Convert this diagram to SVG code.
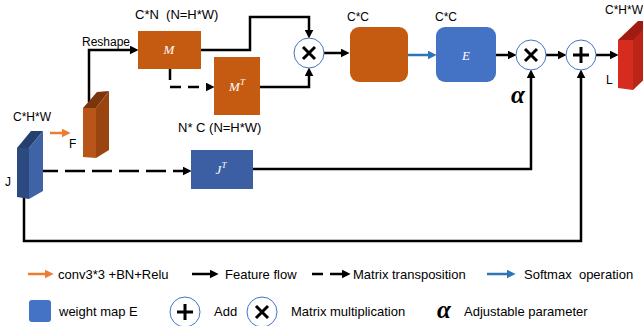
<svg xmlns="http://www.w3.org/2000/svg" width="643" height="326" viewBox="0 0 643 326" xml:space="preserve">
<style>
text{font-family:"Liberation Sans",Arial,sans-serif;font-size:12px;fill:#000;white-space:pre}
.lg{font-size:13px}
.md{font-size:13px}
.in{font-family:"Liberation Serif","Times New Roman",serif;font-style:italic;font-size:13px;fill:#fff}
.al{font-family:"Liberation Serif","Times New Roman",serif;font-style:italic;font-weight:bold;font-size:25px}
.ln{fill:none;stroke:#000;stroke-width:2.5}
.ds{stroke-dasharray:11 7}
.dl{stroke-dasharray:20 7}
.bl{fill:none;stroke:#2e75b6;stroke-width:2.5}
.or{fill:none;stroke:#ed7d31;stroke-width:2.5}
.og{fill:#c55a11}
.bb{fill:#4472c4}
.cir{fill:#fff;stroke:#4472c4;stroke-width:1}
.sym{stroke:#000;stroke-width:3;fill:none}
</style>
<defs>
<marker id="ab" viewBox="0 0 10 10" refX="6" refY="5" markerWidth="9" markerHeight="9" markerUnits="userSpaceOnUse" orient="auto"><path d="M0,0 L10,5 L0,10 z" fill="#000"/></marker>
<marker id="au" viewBox="0 0 10 10" refX="6" refY="5" markerWidth="9" markerHeight="9" markerUnits="userSpaceOnUse" orient="auto"><path d="M0,0 L10,5 L0,10 z" fill="#2e75b6"/></marker>
<marker id="ao" viewBox="0 0 10 10" refX="6" refY="5" markerWidth="9" markerHeight="9" markerUnits="userSpaceOnUse" orient="auto"><path d="M0,0 L10,5 L0,10 z" fill="#ed7d31"/></marker>
</defs>

<g id="connectors">
<path class="ln" d="M89,102 V50 H135" marker-end="url(#ab)"/>
<path class="ln" d="M201,50 H250 V17 H309 V35" marker-end="url(#ab)"/>
<path class="ln ds" d="M170,69 V87 H211" marker-end="url(#ab)"/>
<path class="ln" d="M260,87 H309 V71" marker-end="url(#ab)"/>
<path class="ln" d="M324,53 H346" marker-end="url(#ab)"/>
<path class="bl" d="M408,55 H433" marker-end="url(#au)"/>
<path class="ln" d="M496,55 H513" marker-end="url(#ab)"/>
<path class="ln" d="M546,55 H563" marker-end="url(#ab)"/>
<path class="ln" d="M596,55 H615" marker-end="url(#ab)"/>
<path class="ln" d="M253,169 H531 V73" marker-end="url(#ab)"/>
<path class="ln" d="M24,187 V241 H581 V73" marker-end="url(#ab)"/>
<path class="ln dl" d="M38,171 H188" marker-end="url(#ab)"/>
<path class="or" d="M50,133 H67" marker-end="url(#ao)"/>
</g>

<g id="J">
<polygon points="17,148 31,131 43,131 29,148" fill="#26406e"/>
<polygon points="17,148 29,148 29,199 17,197" fill="#2c4a80"/>
<polygon points="29,148 43,131 43,191 29,199" fill="#4062a6"/>
<text x="5" y="186">J</text>
<text x="13" y="121">C*H*W</text>
</g>

<g id="F">
<polygon points="83,108 97,92 109,91 96,108" fill="#7a350c"/>
<polygon points="83,108 96,108 96,158 83,157" fill="#b8561a"/>
<polygon points="96,108 109,91 109,150 96,158" fill="#9a4510"/>
<text x="69" y="148">F</text>
</g>

<g id="reshape"><text x="82" y="46">Reshape</text></g>

<g id="M">
<rect class="og" x="138" y="31" width="63" height="38"/>
<text class="in" x="169" y="54" text-anchor="middle">M</text>
<text class="md" x="135" y="19">C*N  (N=H*W)</text>
</g>

<g id="MT">
<rect class="og" x="214" y="57" width="46" height="58"/>
<text class="in" x="237" y="91" text-anchor="middle">M<tspan font-size="9" dy="-6">T</tspan></text>
<text class="md" x="178" y="132">N* C (N=H*W)</text>
</g>

<g id="JT">
<rect x="191" y="150" width="62" height="39" fill="#3c5fa4"/>
<text class="in" x="221" y="174" text-anchor="middle">J<tspan font-size="9" dy="-6">T</tspan></text>
</g>

<g id="mul1">
<circle class="cir" cx="309" cy="53" r="15"/>
<path class="sym" d="M303,47 L315,59 M315,47 L303,59"/>
</g>

<g id="CC">
<rect class="og" x="350" y="27" width="58" height="55" rx="9"/>
<text x="347" y="21">C*C</text>
</g>

<g id="E">
<rect class="bb" x="436" y="27" width="60" height="55" rx="9"/>
<text class="in" x="466" y="60" text-anchor="middle">E</text>
<text x="435" y="21">C*C</text>
</g>

<g id="mul2">
<circle class="cir" cx="531" cy="55" r="15"/>
<path class="sym" d="M525,49 L537,61 M537,49 L525,61"/>
<text class="al" x="511" y="103">α</text>
</g>

<g id="add">
<circle class="cir" cx="581" cy="55" r="15"/>
<path class="sym" d="M573,55 H589 M581,47 V63"/>
</g>

<g id="L">
<polygon points="618,40 638,21 656,21 636,40" fill="#a01c12"/>
<polygon points="618,40 633,40 633,90 618,88" fill="#d62b1f"/>
<polygon points="633,40 652,21 652,72 633,90" fill="#bd2418"/>
<text x="605" y="14">C*H*W</text>
<text x="606" y="84">L</text>
</g>

<g id="legend">
<path class="or" d="M28,274 H50" marker-end="url(#ao)"/>
<text class="lg" x="58" y="279">conv3*3 +BN+Relu</text>
<path class="ln" d="M192,274 H215" marker-end="url(#ab)"/>
<text class="lg" x="225" y="279">Feature flow</text>
<path class="ln" d="M312,274 H323 M330,274 H347" marker-end="url(#ab)"/>
<text class="lg" x="353" y="279">Matrix transposition</text>
<path class="bl" d="M487,274 H512" marker-end="url(#au)"/>
<text class="lg" x="524" y="279">Softmax  operation</text>
<rect class="bb" x="29" y="300" width="22" height="22" rx="3"/>
<text class="lg" x="59" y="316">weight map E</text>
<circle class="cir" cx="185" cy="312" r="15"/>
<path class="sym" d="M177,312 H193 M185,304 V320"/>
<text class="lg" x="214" y="316">Add</text>
<circle class="cir" cx="262" cy="312" r="15"/>
<path class="sym" d="M256,306 L268,318 M268,306 L256,318"/>
<text class="lg" x="291" y="316">Matrix multiplication</text>
<text class="al" x="437" y="318">α</text>
<text class="lg" x="464" y="316">Adjustable parameter</text>
</g>
</svg>
